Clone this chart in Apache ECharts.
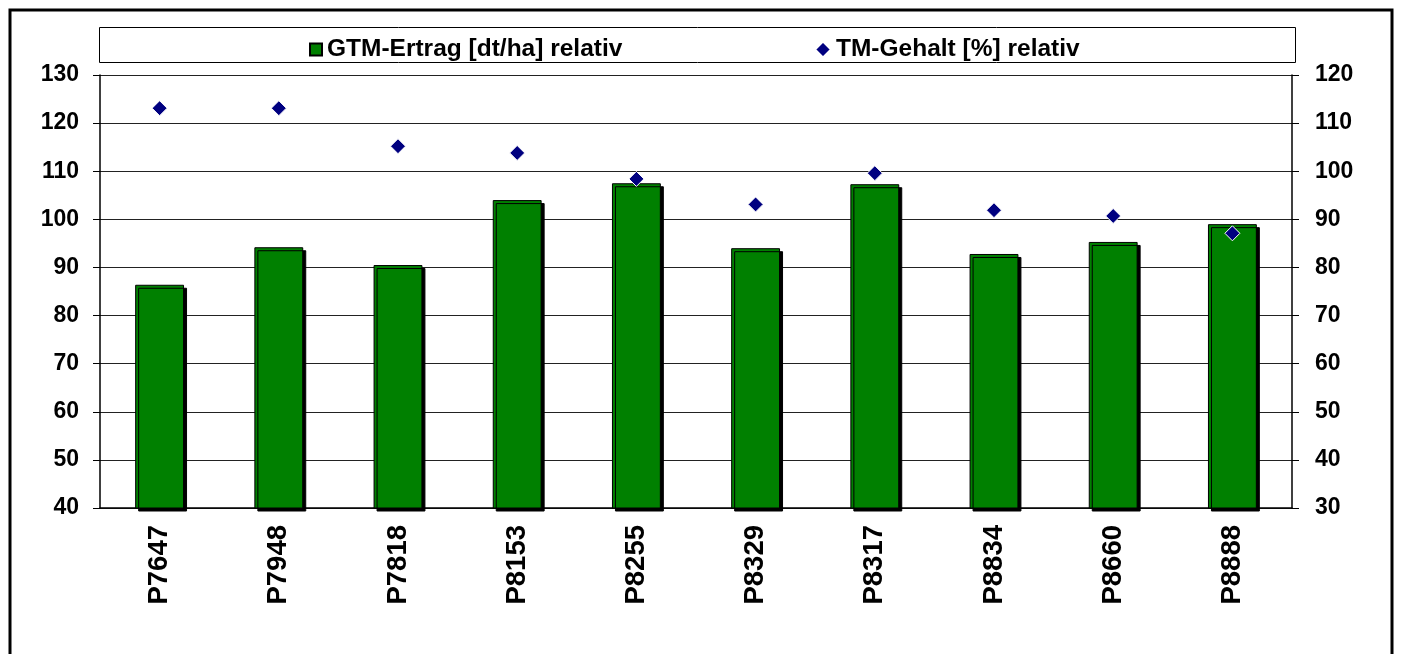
<!DOCTYPE html>
<html>
<head>
<meta charset="utf-8">
<script src="https://cdn.jsdelivr.net/npm/echarts@6/dist/echarts.min.js"></script>
<style>
html,body{margin:0;padding:0;background:#fff;}
#chart{width:1401px;height:654px;}
</style>
</head>
<body>
<div id="chart"></div>
<script>
const categories = ['P7647','P7948','P7818','P8153','P8255','P8329','P8317','P8834','P8660','P8888'];
const gtmErtrag = [86.4, 94.2, 90.5, 104.0, 107.5, 94.0, 107.3, 92.8, 95.3, 99.0];
const tmGehalt = [113.1, 113.1, 105.2, 103.8, 98.4, 93.1, 99.6, 91.9, 90.7, 87.1];
const leftTicks = {min: 40, max: 130, interval: 10};
const rightTicks = {min: 30, max: 120, interval: 10};
const seriesNames = ['GTM-Ertrag [dt/ha] relativ', 'TM-Gehalt [%] relativ'];

const font = 'Arial, "Liberation Sans", sans-serif';
const legendText = {fontFamily: font, fontWeight: 'bold', fontSize: 24.5, color: '#000'};
const chart = echarts.init(document.getElementById('chart'));
chart.setOption({
  animation: false,
  backgroundColor: '#fff',
  graphic: [
    {type: 'rect', shape: {x: 10, y: 10, width: 1382, height: 700},
     style: {fill: 'none', stroke: '#000', lineWidth: 3}, z: 0},
    {type: 'rect', shape: {x: 99.5, y: 27.5, width: 1196, height: 35},
     style: {fill: '#fff', stroke: '#000', lineWidth: 1}, z: 0}
  ],
  legend: [
    {left: 304, top: 32, itemWidth: 12, itemHeight: 12, itemGap: 6,
     textStyle: legendText, data: [{name: seriesNames[0], icon: 'rect'}]},
    {left: 809, top: 32, itemWidth: 16, itemHeight: 16, itemGap: 6,
     textStyle: legendText, data: [{name: seriesNames[1], icon: 'diamond'}]}
  ],
  grid: {left: 100, right: 109, top: 75, bottom: 146},
  xAxis: {type: 'category', data: categories,
     axisLine: {lineStyle: {color: '#000', width: 1.5}},
     axisTick: {length: 8, lineStyle: {color: '#000'}},
     axisLabel: {rotate: 90, margin: 17, color: '#000', fontFamily: font, fontWeight: 'bold', fontSize: 27.5}},
  yAxis: [
    {type: 'value', min: leftTicks.min, max: leftTicks.max, interval: leftTicks.interval,
     axisLine: {show: true, lineStyle: {color: '#000', width: 1.5}},
     axisTick: {show: true, length: 7, lineStyle: {color: '#000'}},
     splitLine: {lineStyle: {color: '#222', width: 1}},
     axisLabel: {margin: 21, color: '#000', fontFamily: font, fontWeight: 'bold', fontSize: 23}},
    {type: 'value', min: rightTicks.min, max: rightTicks.max, interval: rightTicks.interval,
     position: 'right',
     axisLine: {show: true, lineStyle: {color: '#000', width: 1.5}},
     axisTick: {show: true, length: 7, lineStyle: {color: '#000'}},
     splitLine: {show: false},
     axisLabel: {margin: 23, color: '#000', fontFamily: font, fontWeight: 'bold', fontSize: 23}}
  ],
  series: [
    {name: seriesNames[0], type: 'bar', yAxisIndex: 0, data: gtmErtrag, barWidth: '41%',
     itemStyle: {color: '#008000', borderColor: '#000', borderWidth: 1,
       shadowColor: '#000', shadowOffsetX: 3, shadowOffsetY: 3, shadowBlur: 0}},
    {name: seriesNames[1], type: 'scatter', yAxisIndex: 1, data: tmGehalt,
     symbol: 'diamond', symbolSize: 15,
     itemStyle: {color: '#000080', borderColor: '#fff', borderWidth: 1, opacity: 1}, z: 5}
  ]
});
</script>
</body>
</html>
